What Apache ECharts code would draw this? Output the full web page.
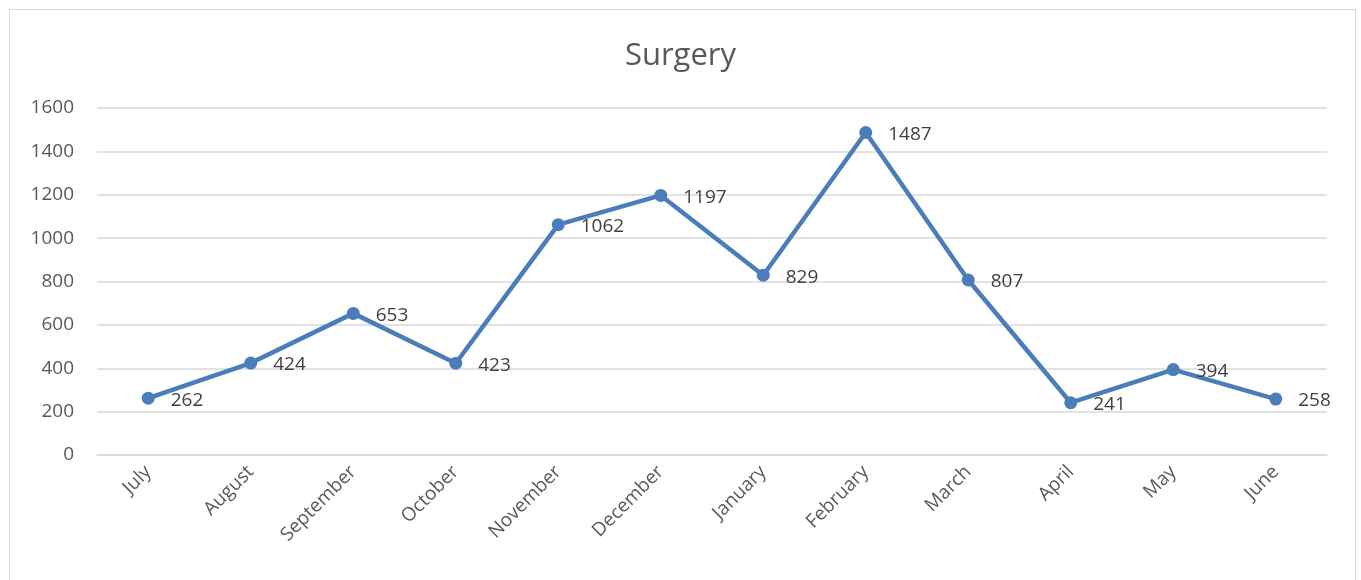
<!DOCTYPE html>
<html>
<head>
<meta charset="utf-8">
<script src="https://cdn.jsdelivr.net/npm/echarts@6/dist/echarts.min.js"></script>
<style>
    html, body { margin: 0; padding: 0; background: #fff; }
    #frame {
        position: absolute; left: 9px; top: 9px; width: 1347px; height: 600px;
        border: 1px solid #d9d9d9; box-sizing: border-box;
    }
    #chart { position: absolute; left: 0; top: 0; width: 1361px; height: 580px; }
</style>
</head>
<body>
<div id="frame"></div>
<div id="chart"></div>
<script>
// Monthly surgery counts
const months = ['July', 'August', 'September', 'October', 'November', 'December',
    'January', 'February', 'March', 'April', 'May', 'June']
const surgeries = [262, 424, 653, 423, 1062, 1197, 829, 1487, 807, 241, 394, 258]

const chartInstance = echarts.init(document.getElementById('chart'))

const option = {
    animation: false,
    title: {
        text: 'Surgery',
        left: 'center',
        top: 36,
        textStyle: {
            fontFamily: 'Open Sans',
            fontSize: 31,
            fontWeight: 'normal',
            color: '#595959'
        }
    },
    grid: {
        left: 97,
        right: 34,
        top: 108,
        bottom: 125
    },
    xAxis: {
        type: 'category',
        data: months,
        boundaryGap: true,
        axisLine: { lineStyle: { color: '#d9d9d9', width: 1.5 } },
        axisTick: { show: false },
        axisLabel: {
            rotate: 45,
            margin: 14,
            fontFamily: 'Open Sans',
            fontSize: 19,
            color: '#595959'
        }
    },
    yAxis: {
        type: 'value',
        min: 0,
        max: 1600,
        interval: 200,
        axisLine: { show: false },
        axisTick: { show: false },
        splitLine: { lineStyle: { color: '#d9d9d9', width: 1.5 } },
        axisLabel: {
            margin: 23,
            fontFamily: 'Open Sans',
            fontSize: 19,
            color: '#595959',
            formatter: v => String(v)
        }
    },
    series: [{
        name: 'Surgery',
        type: 'line',
        data: surgeries,
        symbol: 'circle',
        symbolSize: 13,
        lineStyle: { color: '#4a7ebb', width: 4.5 },
        itemStyle: { color: '#4a7ebb' },
        label: {
            show: true,
            position: 'right',
            distance: 16,
            offset: [0, 2],
            fontFamily: 'Open Sans',
            fontSize: 19,
            color: '#404040'
        }
    }]
}

chartInstance.setOption(option)
</script>
</body>
</html>
